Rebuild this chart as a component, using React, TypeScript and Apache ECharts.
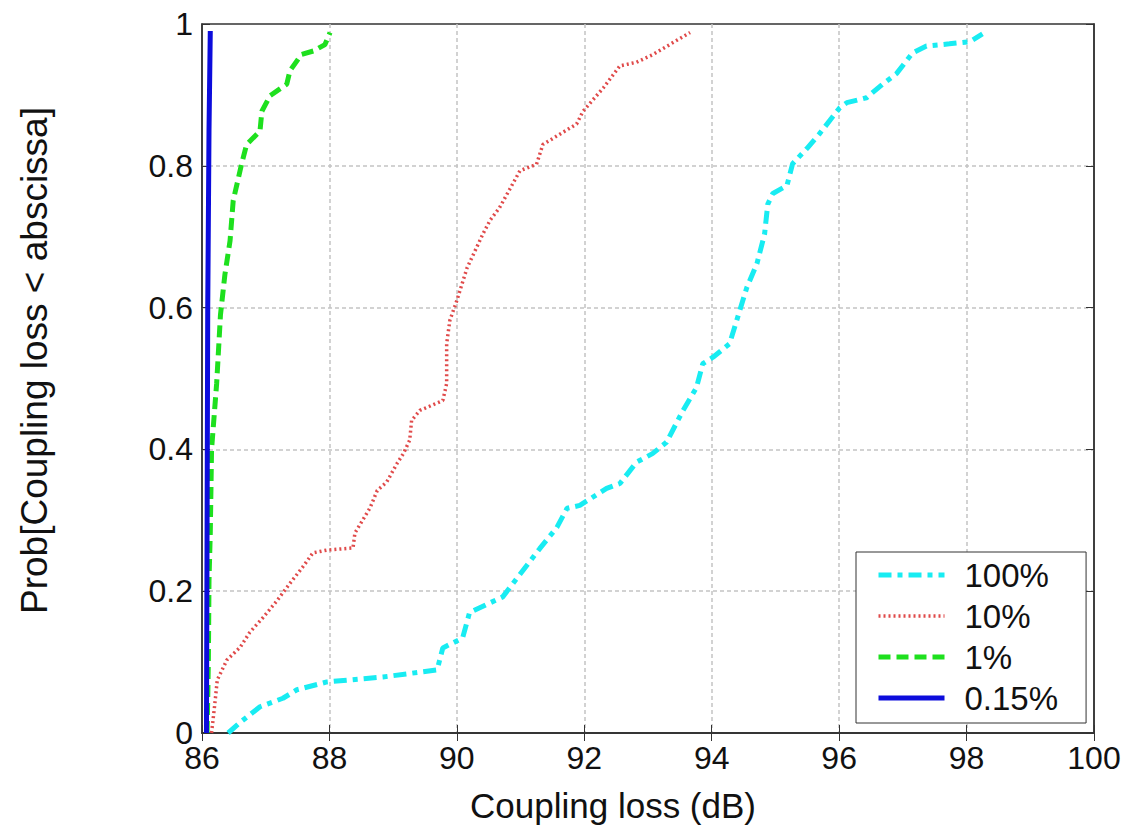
import React, { useEffect, useRef } from "react";
import * as echarts from "echarts";

const xTicks = { min: 86, max: 100, interval: 2 };
const yTicks = { min: 0, max: 1, interval: 0.2 };

const seriesNames = ["100%", "10%", "1%", "0.15%"];

const cdf100: number[][] = [
  [86.41, 0], [86.6, 0.015], [86.91, 0.037], [87.27, 0.049], [87.49, 0.061], [87.96, 0.072],
  [88.84, 0.079], [89.69, 0.089], [89.78, 0.12], [90.09, 0.134], [90.2, 0.17], [90.72, 0.192],
  [91.3, 0.26], [91.57, 0.29], [91.73, 0.317], [91.93, 0.321], [92.35, 0.345], [92.56, 0.352],
  [92.82, 0.382], [93.07, 0.394], [93.29, 0.41], [93.55, 0.455], [93.76, 0.487], [93.86, 0.521],
  [94.02, 0.53], [94.28, 0.549], [94.44, 0.596], [94.55, 0.628], [94.71, 0.662], [94.83, 0.704],
  [94.88, 0.746], [94.96, 0.761], [95.18, 0.772], [95.27, 0.803], [95.49, 0.824], [95.69, 0.845],
  [96.01, 0.882], [96.12, 0.889], [96.43, 0.896], [96.68, 0.915], [96.9, 0.93], [97.15, 0.959],
  [97.37, 0.969], [97.73, 0.972], [98.05, 0.975], [98.25, 0.986],
];

const cdf10: number[][] = [
  [86.15, 0], [86.2, 0.04], [86.24, 0.075], [86.39, 0.103], [86.6, 0.121], [86.75, 0.142],
  [86.96, 0.163], [87.18, 0.187], [87.38, 0.211], [87.58, 0.234], [87.74, 0.254], [87.96, 0.258],
  [88.37, 0.261], [88.4, 0.282], [88.64, 0.318], [88.75, 0.342], [88.9, 0.354], [89.06, 0.38],
  [89.16, 0.394], [89.26, 0.413], [89.29, 0.441], [89.42, 0.455], [89.78, 0.469], [89.84, 0.493],
  [89.84, 0.549], [89.89, 0.582], [90.0, 0.61], [90.16, 0.656], [90.41, 0.704], [90.52, 0.723],
  [90.67, 0.741], [90.99, 0.793], [91.25, 0.802], [91.35, 0.83], [91.88, 0.859], [91.98, 0.877],
  [92.3, 0.91], [92.56, 0.941], [92.82, 0.946], [93.08, 0.957], [93.34, 0.971], [93.66, 0.988],
];

const cdf1: number[][] = [
  [86.08, 0], [86.1, 0.1], [86.11, 0.215], [86.13, 0.282], [86.15, 0.4], [86.23, 0.493],
  [86.29, 0.59], [86.36, 0.647], [86.44, 0.694], [86.49, 0.751], [86.62, 0.802], [86.7, 0.83],
  [86.91, 0.849], [86.94, 0.877], [87.07, 0.899], [87.33, 0.915], [87.38, 0.934], [87.56, 0.957],
  [87.75, 0.962], [87.93, 0.971], [88.01, 0.988],
];

const cdf015: number[][] = [
  [86.07, 0], [86.08, 0.3], [86.09, 0.6], [86.11, 0.85], [86.13, 0.99],
];

const FONT = "'Liberation Sans', Arial, sans-serif";

export default function App() {
  const ref = useRef<HTMLDivElement>(null);
  useEffect(() => {
    if (!ref.current) return;
    const chart = echarts.init(ref.current, undefined, { renderer: "svg" });
    const gridColor = "#c4c4c4";
    const mkLine = (name: string, data: number[][], color: string, width: number, type: any) => ({
      name,
      type: "line",
      data,
      symbol: "none",
      showSymbol: false,
      smooth: false,
      xAxisIndex: 0,
      yAxisIndex: 0,
      lineStyle: { color, width, type },
      itemStyle: { color },
    });
    const splitLine = {
      show: true,
      showMinLine: false,
      showMaxLine: false,
      lineStyle: { color: gridColor, width: 1.5, type: [4, 3] },
    };
    chart.setOption({
      animation: false,
      backgroundColor: "#ffffff",
      textStyle: { fontFamily: FONT },
      grid: {
        left: 202,
        right: 37,
        top: 24,
        bottom: 99,
        show: true,
        borderColor: "#333",
        borderWidth: 1.5,
        backgroundColor: "#fff",
      },
      legend: {
        orient: "vertical",
        left: 856,
        top: 552,
        data: seriesNames,
        backgroundColor: "#fff",
        borderColor: "#333",
        borderWidth: 1,
        borderRadius: 0,
        padding: [5, 28, 7, 20],
        itemWidth: 66,
        itemHeight: 14,
        itemGap: 5,
        itemStyle: { opacity: 0 },
        lineStyle: { width: "inherit" },
        textStyle: {
          fontFamily: FONT,
          fontSize: 33,
          color: "#111",
          lineHeight: 36,
          padding: [0, 0, 0, 15],
        },
      },
      xAxis: [
        {
          type: "value",
          min: xTicks.min,
          max: xTicks.max,
          interval: xTicks.interval,
          name: "Coupling loss (dB)",
          nameLocation: "middle",
          nameGap: 55,
          nameTextStyle: { fontFamily: FONT, fontSize: 35, color: "#111", padding: [0, 70, 0, 0] },
          axisLine: { show: true, lineStyle: { color: "#333", width: 1.5 } },
          axisTick: { show: true, inside: true, length: 8, lineStyle: { color: "#333" } },
          axisLabel: { fontFamily: FONT, fontSize: 32, color: "#111", margin: 9 },
          splitLine,
        },
        {
          type: "value",
          position: "top",
          min: xTicks.min,
          max: xTicks.max,
          interval: xTicks.interval,
          axisLine: { show: true, lineStyle: { color: "#333", width: 1.5 } },
          axisTick: { show: true, inside: true, length: 8, lineStyle: { color: "#333" } },
          axisLabel: { show: false },
          splitLine: { show: false },
        },
      ],
      yAxis: [
        {
          type: "value",
          min: yTicks.min,
          max: yTicks.max,
          interval: yTicks.interval,
          name: "Prob[Coupling loss < abscissa]",
          nameLocation: "middle",
          nameGap: 149,
          nameRotate: 90,
          nameTextStyle: { fontFamily: FONT, fontSize: 37, color: "#111", padding: [0, 0, 0, 36] },
          axisLine: { show: true, lineStyle: { color: "#333", width: 1.5 } },
          axisTick: { show: true, inside: true, length: 8, lineStyle: { color: "#333" } },
          axisLabel: { fontFamily: FONT, fontSize: 32, color: "#111", margin: 9 },
          splitLine,
        },
        {
          type: "value",
          position: "right",
          min: yTicks.min,
          max: yTicks.max,
          interval: yTicks.interval,
          axisLine: { show: true, lineStyle: { color: "#333", width: 1.5 } },
          axisTick: { show: true, inside: true, length: 8, lineStyle: { color: "#333" } },
          axisLabel: { show: false },
          splitLine: { show: false },
        },
      ],
      series: [
        mkLine(seriesNames[0], cdf100, "#18ecf2", 5, [13, 6, 5, 6]),
        mkLine(seriesNames[1], cdf10, "#e04a4a", 3.5, [2, 3]),
        mkLine(seriesNames[2], cdf1, "#1ee01e", 5, [12, 6]),
        mkLine(seriesNames[3], cdf015, "#0c0cdc", 5, "solid"),
      ],
    });
    return () => chart.dispose();
  }, []);
  return (
    <div
      ref={ref}
      style={{ position: "fixed", left: 0, top: 0, width: 1131, height: 832, background: "#fff" }}
    />
  );
}
